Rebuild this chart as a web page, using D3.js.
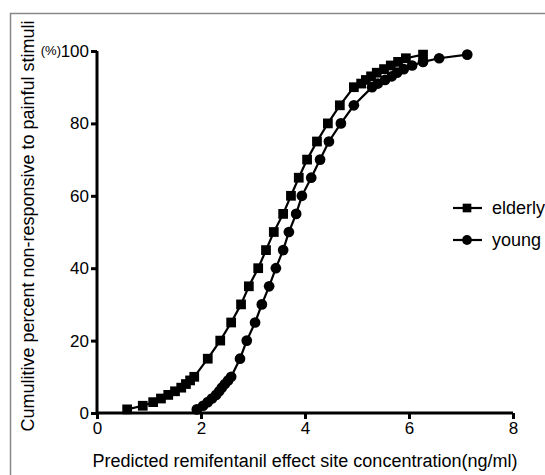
<!DOCTYPE html>
<html>
<head>
<meta charset="utf-8">
<script src="https://cdn.jsdelivr.net/npm/d3@7"></script>
<style>
	body { margin: 0; background: #fff; }
	svg { display: block; font-family: 'Liberation Sans', Arial, sans-serif; }
</style>
</head>
<body>
<svg id="chart" width="545" height="475"></svg>
<script>
// cumulative percent levels shared by both groups
const percents = [1, 2, 3, 4, 5, 6, 7, 8, 9, 10, 15, 20, 25, 30, 35, 40, 45, 50, 55, 60, 65, 70, 75, 80, 85, 90, 91, 92, 93, 94, 95, 96, 97, 98, 99]

// predicted concentration (ng/ml)
const elderly = [0.58, 0.88, 1.08, 1.23, 1.37, 1.5, 1.62, 1.71, 1.79, 1.87, 2.13, 2.37, 2.58, 2.77, 2.92, 3.1, 3.25, 3.4, 3.58, 3.73, 3.88, 4.04, 4.23, 4.44, 4.67, 4.94, 5.08, 5.17, 5.27, 5.38, 5.52, 5.65, 5.79, 5.94, 6.27]
const young = [1.92, 2.04, 2.13, 2.21, 2.29, 2.35, 2.4, 2.46, 2.52, 2.58, 2.75, 2.88, 3.04, 3.17, 3.31, 3.44, 3.58, 3.69, 3.83, 3.94, 4.12, 4.29, 4.46, 4.69, 4.94, 5.29, 5.4, 5.54, 5.67, 5.77, 5.9, 6.06, 6.27, 6.58, 7.12]

const xTicks = [0, 2, 4, 6, 8]
const yTicks = [0, 20, 40, 60, 80, 100]

const series = [
	{ name: 'elderly', xs: elderly, symbol: d3.symbolSquare },
	{ name: 'young', xs: young, symbol: d3.symbolCircle },
]

const svg = d3.select('#chart')

// outer frame
svg.append('rect')
	.attr('x', 10.5)
	.attr('y', 13.5)
	.attr('width', 560)
	.attr('height', 500)
	.attr('fill', 'none')
	.attr('stroke', '#888')
	.attr('stroke-width', 1.5)

const x = d3.scaleLinear().domain([0, 8]).range([97, 513])
const y = d3.scaleLinear().domain([0, 100]).range([413, 51])

const xAxis = svg.append('g')
	.attr('transform', `translate(0,${y(0)})`)
	.call(d3.axisBottom(x).tickValues(xTicks).tickSize(6).tickPadding(3).tickFormat(d3.format('d')))
const yAxis = svg.append('g')
	.attr('transform', `translate(${x(0)},0)`)
	.call(d3.axisLeft(y).tickValues(yTicks).tickSize(6).tickPadding(2).tickFormat(d3.format('d')))

;[xAxis, yAxis].forEach(g => {
	g.select('.domain').attr('stroke', '#000').attr('stroke-width', 3)
	g.selectAll('.tick line').attr('stroke', '#000').attr('stroke-width', 3)
	g.selectAll('.tick text').attr('fill', '#000').style('font-size', '17px')
})
xAxis.select('.domain').attr('d', `M${x(0)},0H${x(8)}`)
yAxis.select('.domain').attr('d', `M0,${y(0)}V${y(100)}`)

svg.append('text')
	.attr('x', 61)
	.attr('y', y(100))
	.attr('dy', '0.32em')
	.attr('text-anchor', 'end')
	.style('font-size', '13px')
	.text('(%)')

// axis titles
svg.append('text')
	.attr('x', 305)
	.attr('y', 467)
	.attr('text-anchor', 'middle')
	.style('font-size', '18px')
	.text('Predicted remifentanil effect site concentration(ng/ml)')

svg.append('text')
	.attr('transform', 'translate(34,226) rotate(-90)')
	.attr('text-anchor', 'middle')
	.style('font-size', '18px')
	.text('Cumulitive percent non-responsive to painful stimuli')

const line = d3.line()
	.x(d => x(d[0]))
	.y(d => y(d[1]))

series.forEach(s => {
	const pts = s.xs.map((v, i) => [v, percents[i]])
	svg.append('path')
		.attr('d', line(pts))
		.attr('fill', 'none')
		.attr('stroke', '#000')
		.attr('stroke-width', 2.2)
	svg.append('g')
		.selectAll('path')
		.data(pts)
		.enter()
		.append('path')
		.attr('transform', d => `translate(${x(d[0])},${y(d[1])})`)
		.attr('d', d3.symbol().type(s.symbol).size(s.symbol == d3.symbolSquare ? 95 : 90))
		.attr('fill', '#000')
})

// legend
const legend = svg.append('g')
series.forEach((s, i) => {
	const ly = 208 + i * 32
	legend.append('line')
		.attr('x1', 453)
		.attr('x2', 482)
		.attr('y1', ly)
		.attr('y2', ly)
		.attr('stroke', '#000')
		.attr('stroke-width', 2.2)
	legend.append('path')
		.attr('transform', `translate(467,${ly})`)
		.attr('d', d3.symbol().type(s.symbol).size(75))
		.attr('fill', '#000')
	legend.append('text')
		.attr('x', 492)
		.attr('y', ly)
		.attr('dy', '0.35em')
		.style('font-size', '18px')
		.text(s.name)
})
</script>
</body>
</html>
